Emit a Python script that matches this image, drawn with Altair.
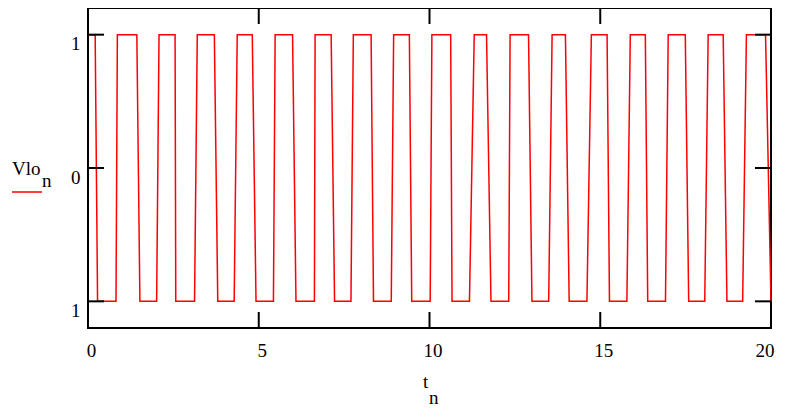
import altair as alt
import pandas as pd

# Edge times of the square wave (t units)
high_start = [0.00, 0.86, 2.08, 3.20, 4.37, 5.48, 6.65, 7.77, 8.95, 10.07, 11.31, 12.36, 13.59, 14.74, 15.88, 16.99, 18.16, 19.28]
high_end = [0.21, 1.43, 2.55, 3.70, 4.81, 5.99, 7.12, 8.29, 9.41, 10.62, 11.67, 12.90, 13.98, 15.20, 16.32, 17.49, 18.60, 19.84]
low_start = [0.28, 1.52, 2.57, 3.80, 4.92, 6.09, 7.22, 8.36, 9.48, 10.66, 11.80, 13.00, 14.09, 15.27, 16.39, 17.59, 18.71, 20.00]
low_end = [0.82, 2.01, 3.12, 4.28, 5.43, 6.63, 7.70, 8.88, 10.02, 11.17, 12.32, 13.49, 14.61, 15.78, 16.91, 18.06, 19.17]
high_level = 1
low_level = -1

x_ticks = [0, 5, 10, 15, 20]
y_ticks = [-1, 0, 1]

rows = []
for i in range(len(high_start)):
    rows.append((high_start[i], high_level))
    rows.append((high_end[i], high_level))
    rows.append((low_start[i], low_level))
    if i < len(low_end):
        rows.append((low_end[i], low_level))
wave = pd.DataFrame({"t": [r[0] for r in rows], "v": [r[1] for r in rows], "i": list(range(len(rows)))})

xs = alt.Scale(domain=[0, 20], nice=False, zero=False)
ys = alt.Scale(domain=[-1.2, 1.2], nice=False, zero=False)

axis_common = dict(grid=False, domain=False, ticks=False, tickSize=0, labelFont="Liberation Serif",
                   labelFontSize=19, labelColor="black", title=None, labelFlush=False, labelOverlap=False,
                   format="d")

line = alt.Chart(wave).mark_line(color="#ff0000", strokeWidth=1.5).encode(
    x=alt.X("t:Q", scale=xs, axis=alt.Axis(
        values=x_ticks, labelPadding=13, labelOffset=3, labelBaseline="top",
        labelAlign={"condition": {"test": "datum.value == 20", "value": "right"}, "value": "center"},
        **axis_common)),
    y=alt.Y("v:Q", scale=ys, axis=alt.Axis(values=y_ticks, labelPadding=8, labelOffset=0,
                                            labelBaseline="top",
                                            labelExpr="datum.value == -1 ? '1' : datum.label",
                                            **axis_common)),
    order="i:Q",
)

# inward tick marks (Mathcad style)
xt = pd.DataFrame({"t": [5, 10, 15]})
bottom_ticks = alt.Chart(xt).mark_rule(color="black", strokeWidth=2).encode(
    x=alt.X("t:Q", scale=xs), y=alt.Y("a:Q", scale=ys), y2="b:Q"
).transform_calculate(a="-1.2", b="-1.08")
top_ticks = alt.Chart(xt).mark_rule(color="black", strokeWidth=2).encode(
    x=alt.X("t:Q", scale=xs), y=alt.Y("a:Q", scale=ys), y2="b:Q"
).transform_calculate(a="1.2", b="1.08")
yt = pd.DataFrame({"v": y_ticks})
left_ticks = alt.Chart(yt).mark_rule(color="black", strokeWidth=2).encode(
    y=alt.Y("v:Q", scale=ys), x=alt.X("a:Q", scale=xs), x2="b:Q"
).transform_calculate(a="0", b="0.47")
right_ticks = alt.Chart(yt).mark_rule(color="black", strokeWidth=2).encode(
    y=alt.Y("v:Q", scale=ys), x=alt.X("a:Q", scale=xs), x2="b:Q"
).transform_calculate(a="19.53", b="20")

one = alt.Data(values=[{"k": 1}])
font = "Liberation Serif"


def label(txt, x, y):
    return alt.Chart(one).mark_text(font=font, fontSize=19, align="left", baseline="alphabetic",
                                    color="black").encode(x=alt.value(x), y=alt.value(y), text=alt.value(txt))


vlo = label("Vlo", -76, 167)
vlo_n = label("n", -46, 179)
legend_line = alt.Chart(one).mark_rule(color="#ff0000", strokeWidth=1.5).encode(
    x=alt.value(-76), x2=alt.value(-46), y=alt.value(184))
t_lab = label("t", 335, 380)
t_n = label("n", 341, 396)

chart = alt.layer(line, bottom_ticks, top_ticks, left_ticks, right_ticks,
                  vlo, vlo_n, legend_line, t_lab, t_n).properties(
    width=683, height=320,
    autosize=alt.AutoSizeParams(type="none"),
    padding={"left": 80, "top": 0, "right": 6, "bottom": 82},
).configure_view(stroke="black", strokeWidth=2)

chart.save("out.html", embed_options={"renderer": "svg", "actions": False})
